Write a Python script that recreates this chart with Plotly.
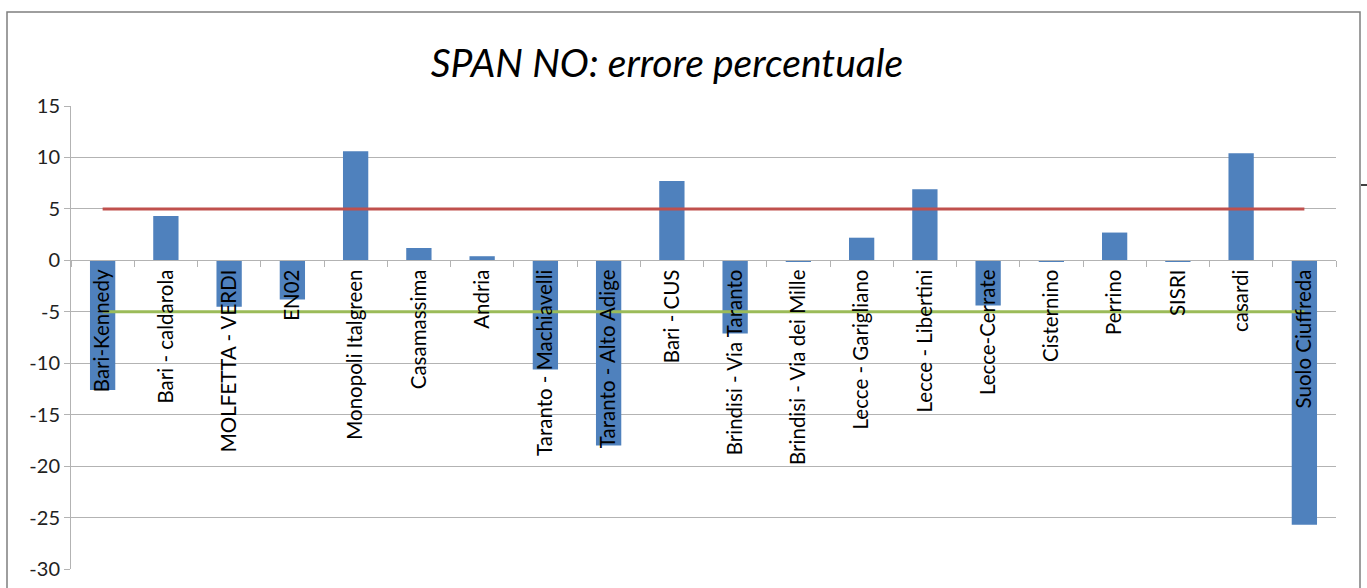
import plotly.graph_objects as go

stations = [
    "Bari-Kennedy", "Bari - caldarola", "MOLFETTA - VERDI", "EN02",
    "Monopoli Italgreen", "Casamassima", "Andria", "Taranto - Machiavelli",
    "Taranto - Alto Adige", "Bari - CUS", "Brindisi - Via Taranto",
    "Brindisi - Via dei Mille", "Lecce - Garigliano", "Lecce - Libertini",
    "Lecce-Cerrate", "Cisternino", "Perrino", "SISRI", "casardi",
    "Suolo Ciuffreda",
]
errore = [
    -12.6, 4.3, -4.5, -3.8, 10.6, 1.2, 0.4, -10.6, -18.0, 7.7,
    -7.1, -0.15, 2.2, 6.9, -4.4, -0.15, 2.7, -0.15, 10.4, -25.7,
]
limite_sup = [5] * len(stations)
limite_inf = [-5] * len(stations)
y_ticks = [15, 10, 5, 0, -5, -10, -15, -20, -25, -30]
y_labels = ["15", "10", "5", "0", "-5", "-10", "-15", "-20", "-25", "-30"]

FONT = "Lato, Carlito, Calibri, sans-serif"
GRID = "#b3b3b3"

fig = go.Figure()
fig.add_trace(go.Bar(x=stations, y=errore, marker=dict(color="#4F81BD", line=dict(width=0)),
                     width=0.4, name="errore"))
fig.add_trace(go.Scatter(x=stations, y=limite_sup, mode="lines",
                         line=dict(color="#C0504D", width=3), name="+5"))
fig.add_trace(go.Scatter(x=stations, y=limite_inf, mode="lines",
                         line=dict(color="#9BBB59", width=3), name="-5"))

fig.update_layout(
    width=1367, height=588,
    margin=dict(l=71, r=31, t=106, b=19, autoexpand=False),
    paper_bgcolor="white", plot_bgcolor="white",
    showlegend=False,
    font=dict(family=FONT, color="#000"),
    title=dict(text="<i>SPAN NO: errore percentuale</i>", x=(667 - 71) / 1265, xref="paper",
               xanchor="center", y=1 - 63 / 588, yanchor="middle",
               font=dict(family=FONT, size=39, color="#000")),
    xaxis=dict(
        anchor="free", position=2 / 3, automargin=False,
        tickangle=-90, tickson="boundaries", ticks="outside", ticklen=6,
        tickcolor=GRID, showline=True, linecolor=GRID, linewidth=1,
        showgrid=False, tickfont=dict(size=20.5, color="#000"),
        range=[-0.5, len(stations) - 0.5],
    ),
    yaxis=dict(
        range=[-30, 15], tickvals=y_ticks, ticktext=y_labels, automargin=False,
        showgrid=True, gridcolor=GRID, gridwidth=1,
        zeroline=False, showline=True, linecolor=GRID, linewidth=1,
        ticks="outside", ticklen=6, tickcolor=GRID,
        tickfont=dict(size=20, color="#222"),
    ),
    shapes=[
        dict(type="rect", xref="paper", yref="paper",
             x0=(7 - 71) / 1265, x1=(1360 - 71) / 1265,
             y0=-0.2, y1=(569 - 12) / 463,
             line=dict(color="#7f7f7f", width=1.5)),
        dict(type="line", xref="paper", yref="paper",
             x0=(1361 - 71) / 1265, x1=(1368 - 71) / 1265,
             y0=(569 - 185) / 463, y1=(569 - 185) / 463,
             line=dict(color="#000", width=1.5)),
    ],
)

fig.write_html("out.html", config={"displayModeBar": False},
               post_script="document.body.style.margin='0';document.body.style.overflow='hidden';")
